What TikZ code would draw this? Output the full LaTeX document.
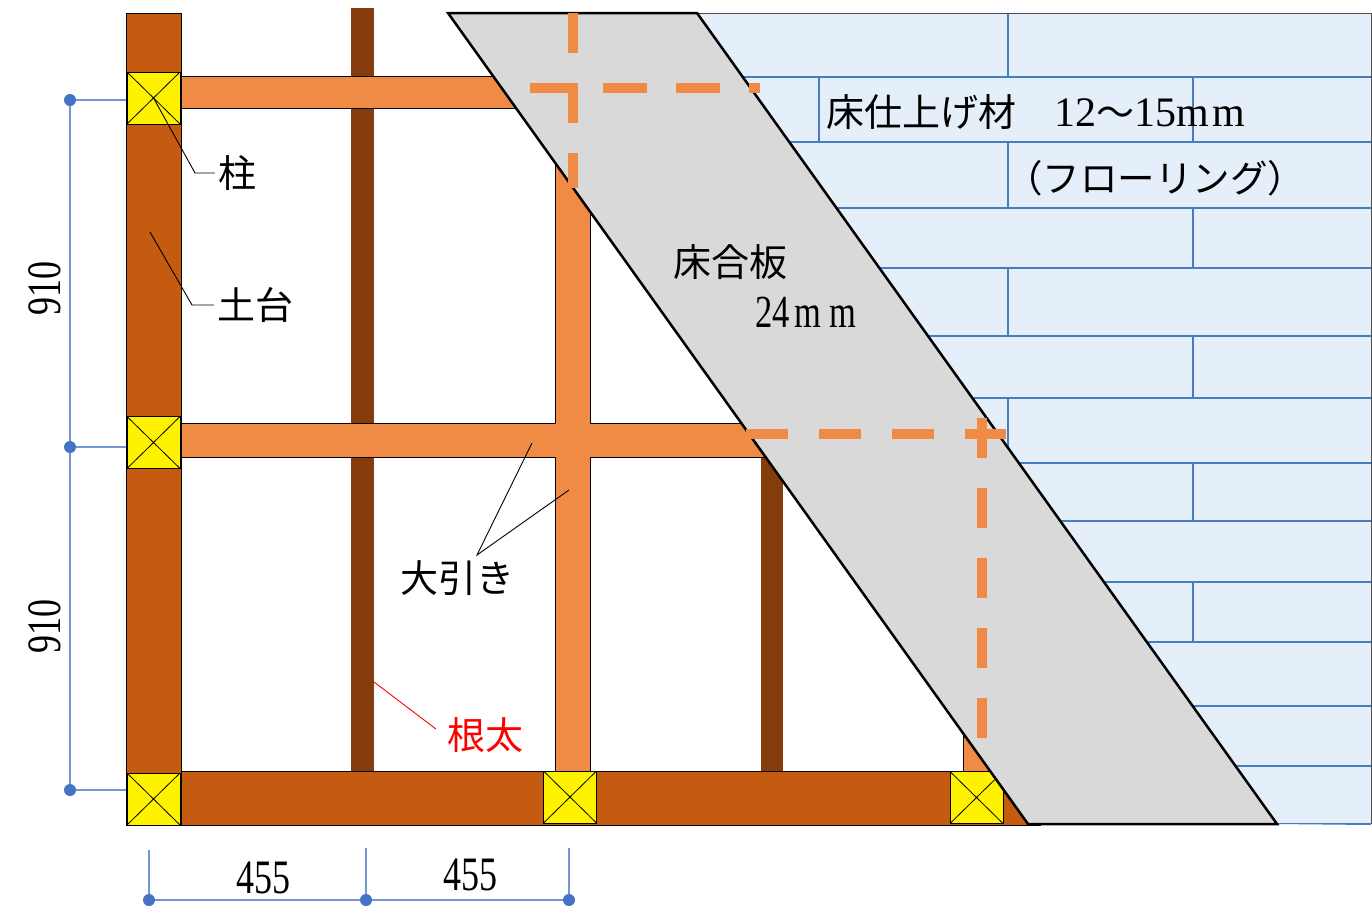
\documentclass[tikz,border=0pt]{standalone}
\usepackage{fontspec}
\newfontfamily\jpfont{Noto Sans CJK JP}
\newfontfamily\numfont[FakeStretch=0.75]{Liberation Serif}
\newfontfamily\numwfont{Liberation Serif}

\definecolor{sillbrown}{RGB}{197,90,17}
\definecolor{joistbrown}{RGB}{132,60,12}
\definecolor{beamorange}{RGB}{239,139,69}
\definecolor{plygray}{RGB}{217,217,217}
\definecolor{floorblue}{RGB}{228,239,249}
\definecolor{plankblue}{RGB}{68,125,195}
\definecolor{dimblue}{RGB}{68,114,196}

\tikzset{
	sill/.style={fill=sillbrown,draw=black,line width=1pt},
	joist/.style={fill=joistbrown},
	beam/.style={fill=beamorange,draw=black,line width=1pt},
	post/.style={draw=black,fill=yellow,line width=1pt,minimum width=53pt,minimum height=52pt,inner sep=0pt,
		path picture={\draw[line width=0.8pt] (path picture bounding box.north west) -- (path picture bounding box.south east)
			(path picture bounding box.south west) -- (path picture bounding box.north east);}},
	ply/.style={fill=plygray,draw=black,line width=2.5pt,line join=miter},
	plank/.style={draw=plankblue,line width=1.3pt},
	hidbeam/.style={draw=beamorange,line width=10pt},
	dimline/.style={draw=dimblue!75,line width=1.3pt},
	dimdot/.style={circle,fill=dimblue,inner sep=0pt,minimum size=12pt},
	jplabel/.style={font=\jpfont\fontsize{38}{40}\selectfont,inner sep=3pt},
	numlabel/.style={font=\numfont\fontsize{48}{50}\selectfont,inner sep=0pt},
	leader/.style={draw=black,line width=0.9pt}
}

\newcommand{\plankrow}[3]{
	\draw[plank] (600,#2) -- (1371,#2);
	\draw[plank] (#3,#1) -- (#3,#2);
}

\begin{document}
\begin{tikzpicture}[x=1pt,y=-1pt]
\useasboundingbox[fill=white] (0,0) rectangle (1372,911);

\pgfmathsetmacro{\sdL}{126}
\pgfmathsetmacro{\sdR}{181}
\pgfmathsetmacro{\sdT}{13}
\pgfmathsetmacro{\sdB}{825}
\pgfmathsetmacro{\sbT}{771}

\coordinate (plyA) at (448,13);
\coordinate (plyB) at (697,13);
\coordinate (plyC) at (1277,824);
\coordinate (plyD) at (1028,824);

\fill[floorblue] (plyB) -- (1371,13) -- (1371,824) -- (plyC) -- cycle;
\begin{scope}
\clip (plyB) -- (1371,13) -- (1371,825) -- (plyC) -- cycle;
\foreach \ya/\yb/\jx in {13/77/1008,77/142/1193,142/208/1008,208/268/1193,268/336/1008,336/398/1193,398/463/1008,463/521/1193,521/582/1008,582/642/1193,642/706/1008,706/766/1193,766/824/1008}
	\plankrow{\ya}{\yb}{\jx}
\draw[plank] (819,77) -- (819,142);
\end{scope}
\draw[line width=1pt,black!70] (plyB) -- (1371,13) -- (1371,824);

\draw[sill] (\sdL,\sdT) rectangle (\sdR,\sdB);
\draw[sill] (\sdR,\sbT) rectangle (1040,\sdB);

\fill[joist] (351,8) rectangle (374,\sbT);
\fill[joist] (761,300) rectangle (783,\sbT);

\draw[beam] (\sdR,76) rectangle (560,108);
\draw[beam] (\sdR,423) rectangle (800,457);
\draw[beam] (555,13) rectangle (590,\sbT);
\draw[beam] (963,430) rectangle (990,\sbT);
\fill[beamorange] (554.4,423.5) rectangle (590.6,456.5);

\node[post] (post1) at (153.5,98) {};
\node[post] (post2) at (153.5,442.5) {};
\node[post] (post3) at (153.5,799) {};
\node[post] (post4) at (570,797) {};
\node[post] (post5) at (976.5,797.5) {};

\draw[ply] (plyA) -- (plyB) -- (plyC) -- (plyD) -- cycle;

\draw[hidbeam,dash pattern=on 40pt off 30pt] (573,13) -- (573,188);
\draw[hidbeam,dash pattern=on 44pt off 29pt] (530,88) -- (760,88);
\draw[hidbeam,dash pattern=on 42pt off 31pt] (746,434) -- (1006,434);
\draw[hidbeam,dash pattern=on 40pt off 30pt] (982,418) -- (982,740);

\node[jplabel] (hashira) at (237,173) {柱};
\coordinate (hashiraPt) at (153,97);
\coordinate (hashiraBend) at (195,173);
\draw[leader] (hashiraPt) -- (hashiraBend) -- (hashira.west);

\node[jplabel] (dodai) at (255,305) {土台};
\coordinate (dodaiPt) at (150,232);
\coordinate (dodaiBend) at (192,305);
\draw[leader] (dodaiPt) -- (dodaiBend) -- (dodai.west);

\node[jplabel] (oobiki) at (457,578) {大引き};
\coordinate (oobikiTip) at (477,555);
\coordinate (oobikiA) at (532,443);
\coordinate (oobikiB) at (569,490);
\draw[leader] (oobikiA) -- (oobikiTip) -- (oobikiB);

\node[jplabel,text=red] (neda) at (485,735) {根太};
\coordinate (nedaPt) at (374,682);
\draw[leader,draw=red,shorten >=10pt] (nedaPt) -- (neda.west);

\node[jplabel] (goban) at (730,262) {床合板};
\node[font=\numfont\fontsize{46}{48}\selectfont,inner sep=0pt] (gobanT) at (806,312) {24\hspace{5pt}m\hspace{8pt}m};

\node[anchor=west,inner sep=0pt] (shiage) at (826,112) {{\jpfont\fontsize{38}{40}\selectfont 床仕上げ材　}{\numwfont\fontsize{42}{44}\selectfont 12}{\jpfont\fontsize{38}{40}\selectfont ～}{\numwfont\fontsize{42}{44}\selectfont 15m\hspace{4pt}m}};
\node[font=\jpfont\fontsize{37.5}{40}\selectfont,inner sep=0pt] (shiageT) at (1155,178) {（フローリング）};

\coordinate (extV1) at (\sdL,100);
\coordinate (extV2) at (\sdL,447);
\coordinate (extV3) at (\sdL,790);
\node[dimdot] (dimV1) at (70,100) {};
\node[dimdot] (dimV2) at (70,447) {};
\node[dimdot] (dimV3) at (70,790) {};
\draw[dimline] (dimV1) -- (dimV2);
\draw[dimline] (dimV2) -- (dimV3);
\draw[dimline] (dimV1) -- (extV1);
\draw[dimline] (dimV2) -- (extV2);
\draw[dimline] (dimV3) -- (extV3);
\node[numlabel,rotate=90] (dimVlab1) at (45,288) {910};
\node[numlabel,rotate=90] (dimVlab2) at (45,626) {910};

\coordinate (extH1) at (149,850);
\coordinate (extH2) at (366,848);
\coordinate (extH3) at (569,848);
\node[dimdot] (dimH1) at (149,900) {};
\node[dimdot] (dimH2) at (366,900) {};
\node[dimdot] (dimH3) at (569,900) {};
\draw[dimline] (dimH1) -- (dimH2);
\draw[dimline] (dimH2) -- (dimH3);
\draw[dimline] (dimH1) -- (extH1);
\draw[dimline] (dimH2) -- (extH2);
\draw[dimline] (dimH3) -- (extH3);
\node[numlabel] (dimHlab1) at (263,878) {455};
\node[numlabel] (dimHlab2) at (470,875) {455};
\end{tikzpicture}
\end{document}
